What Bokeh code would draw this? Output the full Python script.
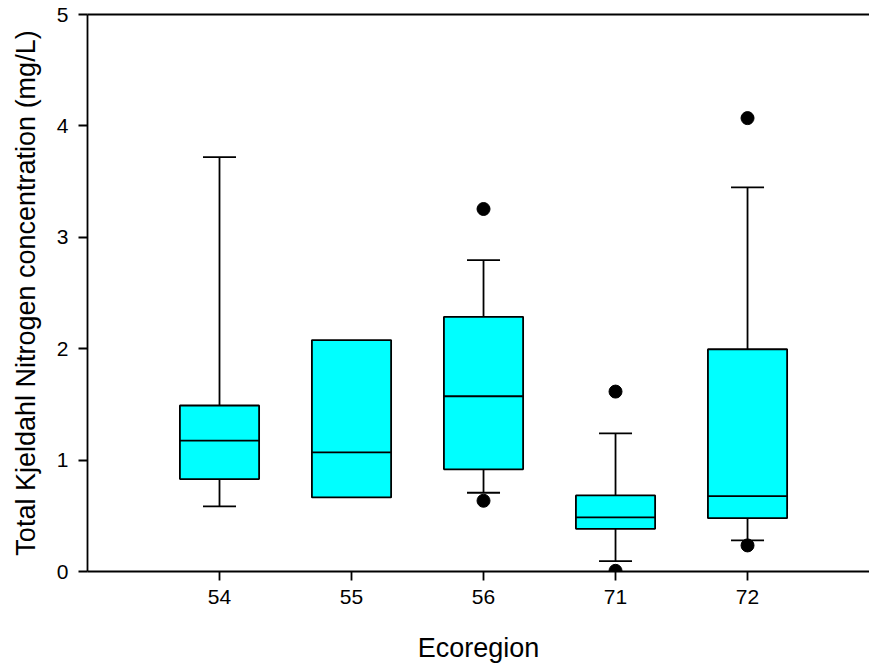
from bokeh.plotting import figure
from bokeh.models import Range1d, LinearAxis, FixedTicker
from bokeh.embed import file_html
from bokeh.resources import INLINE

# Ecoregion box plot summaries of TKN (mg/L)
regions = ["54", "55", "56", "71", "72"]
q1 = [0.83, 0.665, 0.917, 0.383, 0.479]
median = [1.175, 1.07, 1.573, 0.485, 0.677]
q3 = [1.49, 2.077, 2.286, 0.683, 1.995]
whisker_low = [0.584, None, 0.707, 0.093, 0.279]
whisker_high = [3.72, None, 2.795, 1.24, 3.449]

outlier_region = ["56", "56", "71", "71", "72", "72"]
outlier_value = [3.254, 0.635, 1.615, 0.006, 4.07, 0.234]

y_ticks = [0, 1, 2, 3, 4, 5]

FONT = "Liberation Sans"
BOX_W = 0.6
CAP_W = 0.25
LW = 1.8

pos = {r: i + 1 for i, r in enumerate(regions)}
xs = [pos[r] for r in regions]

p = figure(width=869, height=668, output_backend="svg", toolbar_location=None,
           x_range=Range1d(0, 5.924), y_range=Range1d(0, 5),
           min_border_left=87, min_border_right=0, min_border_top=14,
           min_border_bottom=97)
p.outline_line_color = None
p.grid.visible = False
p.background_fill_color = "white"
p.border_fill_color = "white"

# whiskers (stems + caps), skipped where a group has none
for x, lo, hi, a, b in zip(xs, whisker_low, whisker_high, q1, q3):
    if hi is not None:
        p.segment(x0=x, y0=b, x1=x, y1=hi, line_color="black", line_width=LW)
        p.segment(x0=x - CAP_W / 2, y0=hi, x1=x + CAP_W / 2, y1=hi,
                  line_color="black", line_width=LW)
    if lo is not None:
        p.segment(x0=x, y0=a, x1=x, y1=lo, line_color="black", line_width=LW)
        p.segment(x0=x - CAP_W / 2, y0=lo, x1=x + CAP_W / 2, y1=lo,
                  line_color="black", line_width=LW)

# boxes
p.vbar(x=xs, width=BOX_W, bottom=q1, top=q3, fill_color="#00FFFF",
       line_color="black", line_width=LW)
# medians
p.segment(x0=[x - BOX_W / 2 for x in xs], y0=median,
          x1=[x + BOX_W / 2 for x in xs], y1=median,
          line_color="black", line_width=LW)

# outliers
p.scatter(x=[pos[r] for r in outlier_region], y=outlier_value, size=13,
          marker="circle", fill_color="black", line_color="black")

# axes
xa = p.xaxis[0]
xa.ticker = FixedTicker(ticks=xs)
xa.major_label_overrides = {x: r for x, r in zip(xs, regions)}
xa.axis_label = "Ecoregion"
ya = p.yaxis[0]
ya.ticker = FixedTicker(ticks=y_ticks)
ya.axis_label = "Total Kjeldahl Nitrogen concentration (mg/L)"

for ax in (xa, ya):
    ax.axis_line_width = LW
    ax.axis_line_color = "black"
    ax.major_tick_line_width = LW
    ax.major_tick_line_color = "black"
    ax.major_tick_out = 9
    ax.major_tick_in = 0
    ax.minor_tick_out = 0
    ax.minor_tick_in = 0
    ax.major_label_text_font = FONT
    ax.major_label_text_font_size = "21px"
    ax.major_label_text_color = "black"
    ax.axis_label_text_font = FONT
    ax.axis_label_text_font_size = "27px"
    ax.axis_label_text_font_style = "normal"
    ax.axis_label_text_color = "black"
xa.major_label_standoff = 9
ya.major_label_standoff = 10
xa.axis_label_standoff = 26
ya.axis_label_standoff = 13

# top frame line
top = LinearAxis(ticker=FixedTicker(ticks=[]), axis_line_width=LW,
                 axis_line_color="black", major_tick_out=0, minor_tick_out=0,
                 major_label_text_font_size="0px")
p.add_layout(top, "above")

open("out.html", "w").write(file_html(p, INLINE))
